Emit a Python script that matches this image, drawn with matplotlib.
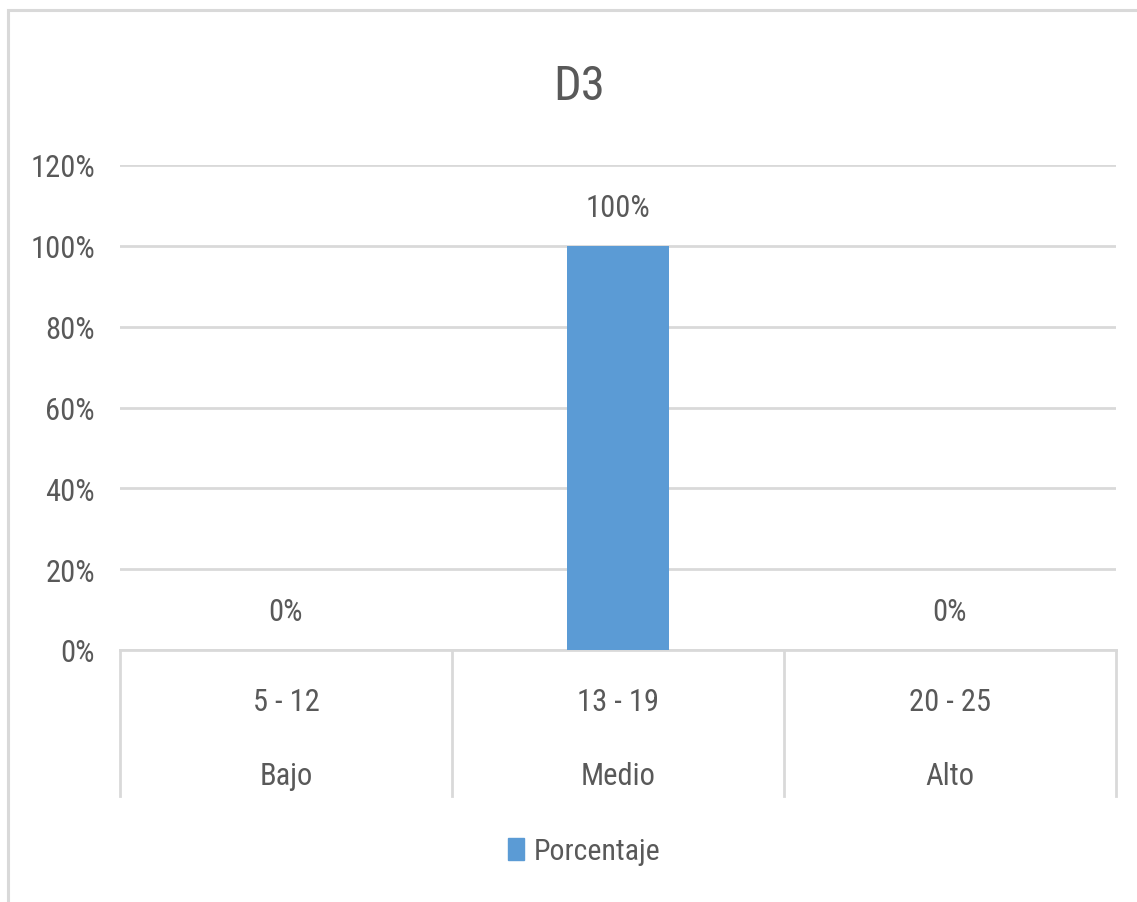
import matplotlib
matplotlib.use("Agg")
import matplotlib.pyplot as plt
from matplotlib.patches import Rectangle
from matplotlib.lines import Line2D
from matplotlib.ticker import FuncFormatter
from matplotlib import font_manager

# Data
ranges = ["5 - 12", "13 - 19", "20 - 25"]
levels = ["Bajo", "Medio", "Alto"]
porcentaje = [0.0, 1.0, 0.0]
yticks = [0.0, 0.2, 0.4, 0.6, 0.8, 1.0, 1.2]

names = {f.name for f in font_manager.fontManager.ttflist}
candidates = ["Liberation Sans Narrow", "Roboto Condensed", "Open Sans Condensed",
              "DejaVu Sans Condensed", "Liberation Sans"]
family = [next(c for c in candidates if c in names or c == "Liberation Sans")]
plt.rcParams["font.family"] = family + ["DejaVu Sans"]

TEXT = "#595959"
GRID = "#d9d9d9"
BAR = "#5b9bd5"
FS = 22

W, H = 1137, 903
fig = plt.figure(figsize=(W / 100, H / 100), dpi=100)

# Chart border (left and top edges visible)
fig.patches.append(Rectangle((8 / W, -0.2), 1.5, (H - 11) / H + 0.2,
                             transform=fig.transFigure, fill=False,
                             edgecolor=GRID, linewidth=2.2, zorder=0))

ax = fig.add_axes([120 / W, 1 - 651 / H, (1116 - 120) / W, (651 - 166) / H])
x = list(range(len(ranges)))
ax.bar(x, porcentaje, width=0.307, color=BAR, zorder=3)
ax.set_xlim(-0.5, len(ranges) - 0.5)
ax.set_ylim(0, 1.2)
ax.set_yticks(yticks)
ax.yaxis.set_major_formatter(FuncFormatter(lambda v, p: f"{v * 100:.0f}%"))
ax.tick_params(axis="y", length=0, labelsize=FS, labelcolor=TEXT, pad=18)
ax.set_xticks([])
ax.grid(axis="y", color=GRID, linewidth=2, zorder=0)
for s in ["top", "right", "left"]:
    ax.spines[s].set_visible(False)
ax.spines["bottom"].set_color(GRID)
ax.spines["bottom"].set_linewidth(2)

# Value labels
for xi, v in zip(x, porcentaje):
    ax.annotate(f"{v * 100:.0f}%", (xi, v), xytext=(0, 17), textcoords="offset points",
                ha="center", va="bottom", fontsize=FS, color=TEXT)

# Two-level category axis
trans = ax.get_xaxis_transform()
span = 651 - 166
sep_bottom = -(797 - 651) / span
for b in [i - 0.5 for i in range(len(ranges) + 1)]:
    ax.add_line(Line2D([b, b], [0, sep_bottom], transform=trans, color=GRID,
                       linewidth=2, clip_on=False))
y1 = -(711 - 651) / span
y2 = -(785 - 651) / span
for xi, r, l in zip(x, ranges, levels):
    ax.text(xi, y1, r, transform=trans, ha="center", va="baseline", fontsize=FS, color=TEXT)
    ax.text(xi, y2, l, transform=trans, ha="center", va="baseline", fontsize=FS, color=TEXT)

fig.text(579 / W, 1 - 100 / H, "D3", ha="center", va="baseline", fontsize=35, color=TEXT)

fig.legend([Rectangle((0, 0), 1, 1, color=BAR)], ["Porcentaje"],
           loc="center", bbox_to_anchor=(584 / W, 1 - 852 / H), frameon=False,
           fontsize=21.5, handlelength=0.55, handleheight=0.75, handletextpad=0.3,
           labelcolor=TEXT)

fig.savefig("out.png", dpi=100, facecolor="white")
